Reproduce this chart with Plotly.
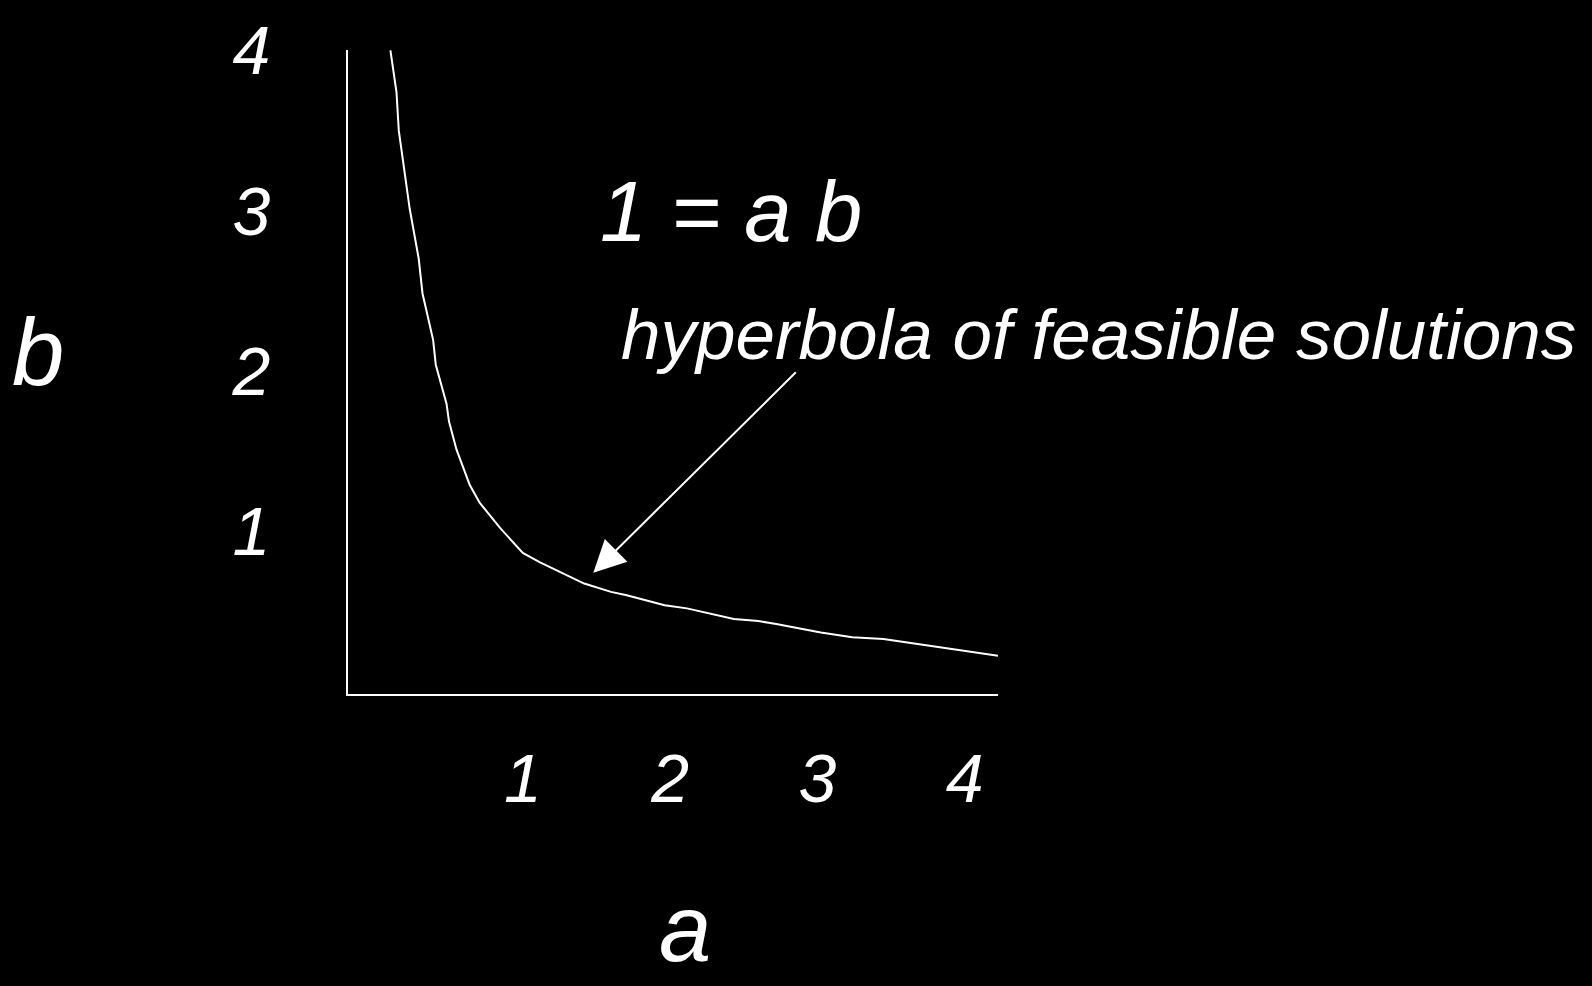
import plotly.graph_objects as go

# Curve (a, b)
a_vals = [0.101, 0.142, 0.158, 0.192, 0.232, 0.293, 0.319, 0.391, 0.409, 0.482, 0.499,
          0.550, 0.640, 0.708, 0.844, 1.000, 1.114, 1.417, 1.599, 1.706, 1.842, 1.963,
          2.115, 2.266, 2.433, 2.600, 2.721, 3.024, 3.237, 3.449, 3.631, 3.935, 4.227]
b_vals = [4.002, 3.743, 3.500, 3.278, 3.012, 2.702, 2.483, 2.193, 2.038, 1.795, 1.683,
          1.507, 1.286, 1.175, 1.020, 0.862, 0.805, 0.671, 0.619, 0.598, 0.563, 0.536,
          0.516, 0.485, 0.449, 0.437, 0.418, 0.365, 0.336, 0.324, 0.299, 0.257, 0.220]

tick_vals = [1, 2, 3, 4]
tick_text = ["1", "2", "3", "4"]

equation_text = "1 = a b"
arrow_label = "hyperbola of feasible solutions"
arrow_tip = (1.479, 0.738)

FONT = "Liberation Sans Narrow, Arial Narrow, Liberation Sans, Arial, sans-serif"

fig = go.Figure()
fig.add_trace(go.Scatter(x=a_vals, y=b_vals, mode="lines",
                         line=dict(color="white", width=2), hoverinfo="skip",
                         showlegend=False))

fig.update_layout(
    width=1592, height=986,
    paper_bgcolor="black", plot_bgcolor="black",
    margin=dict(l=348, r=594, t=46, b=292, pad=0),
    showlegend=False,
    xaxis=dict(range=[-0.187, 4.227], showgrid=False, zeroline=False,
               showline=True, linecolor="white", linewidth=2,
               tickvals=tick_vals, ticktext=tick_text, ticks="",
               ticklabelstandoff=24,
               tickfont=dict(family=FONT, size=68, color="white", style="italic")),
    yaxis=dict(range=[-0.019, 4.004], showgrid=False, zeroline=False,
               showline=True, linecolor="white", linewidth=2,
               tickvals=tick_vals, ticktext=tick_text, ticks="",
               ticklabelstandoff=62,
               tickfont=dict(family=FONT, size=68, color="white", style="italic")),
    annotations=[
        dict(text="b", xref="paper", yref="paper", x=-0.477, y=0.531,
             xanchor="center", yanchor="middle", showarrow=False,
             font=dict(family=FONT, size=94, color="white", style="italic")),
        dict(text="a", xref="paper", yref="paper", x=0.518, y=-0.4478,
             xanchor="center", yanchor="bottom", showarrow=False, borderpad=0,
             font=dict(family=FONT, size=94, color="white", style="italic")),
        dict(text=equation_text, xref="paper", yref="paper", x=0.384, y=0.75,
             xanchor="left", yanchor="middle", showarrow=False,
             font=dict(family=FONT, size=85, color="white", style="italic")),
        dict(text=arrow_label, xref="paper", yref="paper", x=0.4167, y=0.5587,
             xanchor="left", yanchor="middle", showarrow=False,
             font=dict(family=FONT, size=71, color="white", style="italic")),
        dict(text="", x=arrow_tip[0], y=arrow_tip[1], xref="x", yref="y",
             showarrow=True, ax=204, ay=-202, arrowhead=2, arrowsize=3.2,
             arrowwidth=2, arrowcolor="white", standoff=0),
    ],
)

fig.write_html("out.html",
               config={"displayModeBar": False},
               post_script="document.body.style.margin='0';"
                           "document.body.style.background='black';")
